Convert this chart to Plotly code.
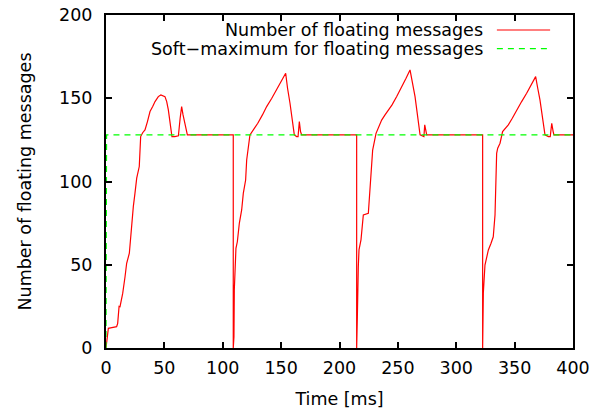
import plotly.graph_objects as go

# ---- data ----
time_ms = [
    0, 1.0, 2.0, 5.0, 9.1, 10.0, 10.6, 11.2, 12.0, 13.0, 14.3, 16.3, 17.7, 20.0, 21.4,
    23.4, 24.8, 25.7, 26.3, 28.5, 29.2, 29.7, 31.4, 33.4, 35.5, 37.7, 40.0, 42.0,
    44.8, 47.0, 50.5, 52.0, 53.4, 55.0, 56.2, 56.5, 59.0, 62.0, 63.5, 64.8, 66.0,
    67.7, 69.7, 109.0,
    109.0, 109.4, 109.6, 109.9, 110.7, 111.3, 112.5, 114.2, 116.2, 117.6, 119.6,
    120.5, 123.3, 126.2, 130.0, 134.0, 137.6, 142.0, 146.2, 150.0, 153.9, 155.5,
    157.6, 161.3, 163.3, 164.5, 165.6, 166.6, 167.6, 214.7,
    214.7, 215.0, 215.3, 216.1, 216.7, 218.4, 219.0, 220.4, 224.7, 225.5, 226.1,
    228.4, 231.3, 233.5, 236.1, 239.0, 241.8, 245.0, 249.0, 253.0, 257.0, 260.4,
    262.5, 264.7, 269.0, 271.3, 272.3, 273.0, 274.0, 274.7, 322.6,
    322.6, 322.9, 323.2, 324.6, 326.1, 327.5, 329.8, 331.7, 333.2, 334.0, 334.6,
    335.5, 337.5, 339.7, 342.0, 344.6, 348.0, 351.8, 356.0, 360.3, 364.0, 368.0,
    369.8, 371.7, 376.0, 378.9, 380.5, 381.8, 383.0, 383.7, 400.0,
]
floating = [
    0, 6, 11.8, 12.2, 12.8, 14.8, 21.8, 25.0, 24.8, 28.0, 32.8, 42.8, 50.9, 56.9, 70.9,
    84.9, 92.9, 100.9, 102.0, 109.0, 118.0, 127.0, 129.3, 131.0, 136.0, 142.0, 145.0, 148.0,
    151.0, 152.0, 151.0, 148.0, 143.0, 135.0, 128.0, 127.0, 127.0, 127.5, 138.0, 145.0, 140.0,
    135.0, 128.0, 128.0,
    0, 2.0, 6.8, 34.8, 46.8, 59.9, 63.8, 74.9, 82.9, 92.9, 100.9,
    112.9, 128.0, 131.0, 135.0, 140.0, 145.0, 150.0, 155.0, 160.0, 165.0, 156.0,
    147.0, 128.0, 127.0, 127.0, 136.0, 130.0, 128.0, 128.0,
    0, 5.0, 18.8, 48.8, 58.9, 64.9, 69.9, 79.9, 80.9, 88.9, 100.9,
    118.9, 128.9, 133.0, 136.9, 140.0, 142.9, 146.0, 151.0, 157.0, 162.0, 167.0,
    159.0, 151.0, 128.0, 127.0, 127.0, 134.0, 130.0, 128.0, 128.0,
    0, 6.8, 33.0, 49.8, 54.8, 58.9, 62.9, 66.8, 79.9, 101.0, 116.9,
    120.0, 123.0, 130.0, 132.0, 134.0, 138.0, 143.0, 148.0, 153.0, 158.0, 163.0,
    156.0, 149.0, 128.0, 127.0, 127.0, 135.0, 130.0, 128.0, 128.0,
]
soft_time = [0, 0.5, 400]
soft_max = [0, 128, 128]

x_ticks = [0, 50, 100, 150, 200, 250, 300, 350, 400]
y_ticks = [0, 50, 100, 150, 200]

FONT = "DejaVu Sans"
FS = 17.5

fig = go.Figure()
fig.add_trace(go.Scatter(
    x=time_ms, y=floating, mode="lines", name="Number of floating messages",
    line=dict(color="#ff0000", width=1.2), showlegend=False,
))
fig.add_trace(go.Scatter(
    x=soft_time, y=soft_max, mode="lines", name="Soft\u2212maximum for floating messages",
    line=dict(color="#00ff00", width=1.2, dash="6px,5px"), showlegend=False,
))

axis_common = dict(
    showline=True, linecolor="black", linewidth=2, mirror="ticks",
    ticks="inside", ticklen=6, tickwidth=1.5, tickcolor="black",
    showgrid=False, zeroline=False, automargin=False,
    ticklabeloverflow="allow",
    tickfont=dict(family=FONT, size=FS, color="black"),
)
fig.update_xaxes(range=[0, 400], tickvals=x_ticks, ticklabelstandoff=3,
                 title=dict(text="Time [ms]", font=dict(family=FONT, size=FS, color="black"), standoff=16),
                 **axis_common)
fig.update_yaxes(range=[0, 200], tickvals=y_ticks, ticklabelstandoff=8,
                 title=dict(text="Number of floating messages", font=dict(family=FONT, size=FS, color="black"), standoff=23),
                 **axis_common)

# gnuplot-style key: text right-aligned, sample line on the right
entries = [
    ("Number of floating messages", 0.955, dict(color="#ff0000", width=1.2)),
    ("Soft\u2212maximum for floating messages", 0.899, dict(color="#00ff00", width=1.2, dash="6px,5px")),
]
for text, yy, ln in entries:
    fig.add_annotation(x=0.811, y=yy, xref="paper", yref="paper", text=text,
                       showarrow=False, xanchor="right", yanchor="middle",
                       font=dict(family=FONT, size=FS, color="black"))
    fig.add_shape(type="line", xref="paper", yref="paper", x0=0.837, x1=0.951,
                  y0=yy, y1=yy, line=ln)

fig.update_layout(
    width=603, height=413,
    margin=dict(l=106, r=30, t=15, b=65, autoexpand=False),
    paper_bgcolor="white", plot_bgcolor="white",
    font=dict(family=FONT, size=FS, color="black"),
)

# remove the page's default body margin so the figure sits at the window origin
fig.write_html("out.html", config={"displayModeBar": False},
               post_script="document.body.style.margin='0';")
